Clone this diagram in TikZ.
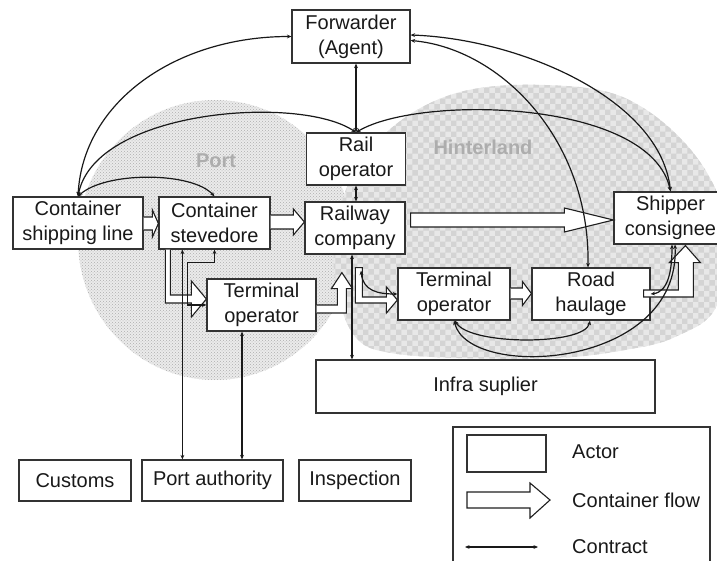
\documentclass[tikz,border=0pt]{standalone}
\usepackage{fontspec}
\setmainfont{Liberation Sans}
\usetikzlibrary{arrows.meta,calc,patterns}

% straight hollow flow arrow: source, target, centre y, body half, head half, head length
\newcommand\hflow[6]{%
  \draw[flow] ($(#1.east|-0,#3)+(0,-#4)$) -- ($(#2.west|-0,#3)+(-#6,-#4)$)
    -- ($(#2.west|-0,#3)+(-#6,-#5)$) -- (#2.west|-0,#3)
    -- ($(#2.west|-0,#3)+(-#6,#5)$) -- ($(#2.west|-0,#3)+(-#6,#4)$)
    -- ($(#1.east|-0,#3)+(0,#4)$);}

\begin{document}
\begin{tikzpicture}[x=1pt,y=-1pt,
  actor/.style={draw=black!80, line width=1.2pt, fill=white, align=center,
    inner sep=0pt, font=\fontsize{20}{25}\selectfont, text=black!90},
  contract/.style={line width=1.2pt, draw=black!90,
    {Stealth[length=4.5pt,width=3.8pt]}-{Stealth[length=4.5pt,width=3.8pt]}},
  flow/.style={draw=black!88, line width=1.1pt, fill=white, line join=miter},
  region/.style={font=\bfseries\fontsize{20}{24}\selectfont, text=black!32},
  legendtext/.style={anchor=west, inner sep=0pt, font=\fontsize{20}{24}\selectfont, text=black!90}]
\useasboundingbox (0,0) rectangle (717,561);
\clip (0,0) rectangle (717,561);

% port and hinterland areas
\fill[white!92!black] (215,240) ellipse [x radius=137, y radius=140];
\fill[pattern=crosshatch dots, pattern color=white!68!black] (215,240) ellipse [x radius=137, y radius=140];
\path[fill=white!91!black, postaction={pattern=checkerboard, pattern color=white!83!black}]
  plot[smooth cycle, tension=0.6] coordinates {
  (545,85) (625,98) (691,150) (725,220) (717,305) (675,337) (625,350) (558,358)
  (458,358) (391,353) (358,340) (340,303) (334,250) (350,180) (395,125) (460,92)};
\node[region] (portlbl) at (216,161) {Port};
\node[region] (hinlbl) at (483,147) {Hinterland};

% actors
\node[actor, minimum width=118, minimum height=53] (fwd) at (351,36.5) {Forwarder\\(Agent)};
\node[actor, minimum width=99, minimum height=52] (rop) at (356,159) {Rail\\operator};
\node[actor, minimum width=100, minimum height=52] (rwc) at (355,228) {Railway\\company};
\node[actor, minimum width=130, minimum height=52] (csl) at (78,223) {Container\\shipping line};
\node[actor, minimum width=111, minimum height=52] (stv) at (214.5,223) {Container\\stevedore};
\node[actor, minimum width=109, minimum height=52] (top) at (261.5,305) {Terminal\\operator};
\node[actor, minimum width=112, minimum height=52] (toh) at (454,294) {Terminal\\operator};
\node[actor, minimum width=118, minimum height=52] (rdh) at (591,294) {Road\\haulage};
\node[actor, minimum width=113, minimum height=52] (shp) at (670.5,218) {Shipper\\consignee};
\node[actor, minimum width=339, minimum height=53] (inf) at (485.5,386.5) {Infra suplier};
\node[actor, minimum width=112, minimum height=41] (cus) at (75,480.5) {Customs};
\node[actor, minimum width=141, minimum height=41] (pa) at (212.5,480.5) {Port authority};
\node[actor, minimum width=112, minimum height=41] (ins) at (355,480.5) {Inspection};

% container flows
\hflow{csl}{stv}{223.5}{6.5}{13.5}{6}
\hflow{stv}{rwc}{222}{7}{13}{11}
\draw[flow] ($(rwc.east|-0,220)+(5,-7)$) -- ($(shp.west|-0,220)+(-49,-7)$)
  -- ($(shp.west|-0,220)+(-49,-12)$) -- (shp.west|-0,220)
  -- ($(shp.west|-0,220)+(-49,12)$) -- ($(shp.west|-0,220)+(-49,7)$)
  -- ($(rwc.east|-0,220)+(5,7)$) -- cycle;
\coordinate (f4) at (top.west|-0,299);
\draw[flow] ($(stv.south west)+(7,0)$) |- ($(f4)+(-15,4)$) -- ($(f4)+(-15,18)$) -- (f4)
  -- ($(f4)+(-15,-18)$) -- ($(f4)+(-15,-4)$) -| ($(stv.south west)+(12,0)$);
\coordinate (f5) at ($(rwc.south west)+(37.5,18)$);
\draw[flow] (top.east|-0,305) -| ($(f5)+(-4.5,16)$) -- ($(f5)+(-10.5,16)$) -- (f5)
  -- ($(f5)+(10.5,16)$) -- ($(f5)+(4.5,16)$) |- (top.east|-0,313);
\coordinate (f6) at (toh.west|-0,300);
\draw[flow] ($(rwc.south west)+(51,13)$) |- ($(f6)+(-11,3)$) -- ($(f6)+(-11,13)$) -- (f6)
  -- ($(f6)+(-11,-13)$) -- ($(f6)+(-11,-3)$) -| ($(rwc.south west)+(58,13)$) -- cycle;
\hflow{toh}{rdh}{293.5}{5.5}{12}{9}
\coordinate (f8) at ($(shp.south west)+(72,1)$);
\draw[flow] ($(rdh.east)+(-7,-4)$) -| ($(f8)+(-7,17)$) -- ($(f8)+(-16,17)$) -- (f8)
  -- ($(f8)+(15,17)$) -- ($(f8)+(8,17)$) |- ($(rdh.east)+(-7,3)$) -- cycle;

% contracts
\draw[contract] (csl.north) .. controls +(5,-95) and +(-115,0) .. (fwd.west);
\draw[contract] (csl.north) .. controls +(17,-87) and +(-56,-38) .. (rop.north);
\draw[contract] (csl.north) .. controls +(27,-25) and +(-23,-25) .. (stv.north);
\draw[contract] (rop.north) .. controls +(64,-38) and +(-20,-92) .. (shp.north);
\draw[contract] ($(fwd.east)+(0,-1.5)$) .. controls +(110,4) and +(-10,-92) .. (shp.north);
\draw[contract] ($(fwd.east)+(0,4)$) .. controls +(90,8) and +(2,-128) .. ($(rdh.north)+(-3,0)$);
\draw[contract] (rop.north |- fwd.south) -- (rop.north);
\draw[contract] (rop.south) -- (rop.south |- rwc.north);
\coordinate (c9) at ($(rwc.south)+(-3,0)$);
\draw[contract] (c9) -- (c9 |- inf.north);
\coordinate (c10) at ($(stv.south west)+(24,0)$);
\draw[contract] (c10) -- (c10 |- pa.north);
\draw[contract] (stv.south) -- ++(0,13) -| ($(top.west)+(-19,0)$) -- (top.west);
\coordinate (c12) at ($(rwc.south)+(6,16)$);
\draw[contract] (c12) .. controls +(2,20) and +(-20,0) .. (toh.west);
\draw[contract] ($(toh.south)+(1,0)$) .. controls +(15,25) and +(-5,25) .. ($(rdh.south)+(-1,0)$);
\draw[contract] (toh.south) .. controls +(15,60) and +(5,125) .. ($(shp.south)+(4.5,0)$);
\draw[contract] (rdh.east) .. controls +(18,-2) and +(0,25) .. ($(shp.south)+(1.5,0)$);
\coordinate (c16) at ($(top.south)+(-19.5,0)$);
\draw[contract] (c16) -- (c16 |- pa.north);

% legend
\draw[draw=black!80, line width=1.2pt] (453,427) rectangle (710,600);
\node[actor, minimum width=79, minimum height=37] (lgact) at (506.5,453.5) {};
\draw[flow] (467,492) -- (530,492) -- (530,483) -- (550,500) -- (530,518) -- (530,508) -- (467,508) -- cycle;
\coordinate (lgc1) at (465,547);
\coordinate (lgc2) at (538,547);
\draw[contract] (lgc1) -- (lgc2);
\node[legendtext] (lgta) at (572,452) {Actor};
\node[legendtext] (lgtf) at (572,500) {Container flow};
\node[legendtext] (lgtc) at (572,547) {Contract};
\end{tikzpicture}
\end{document}
